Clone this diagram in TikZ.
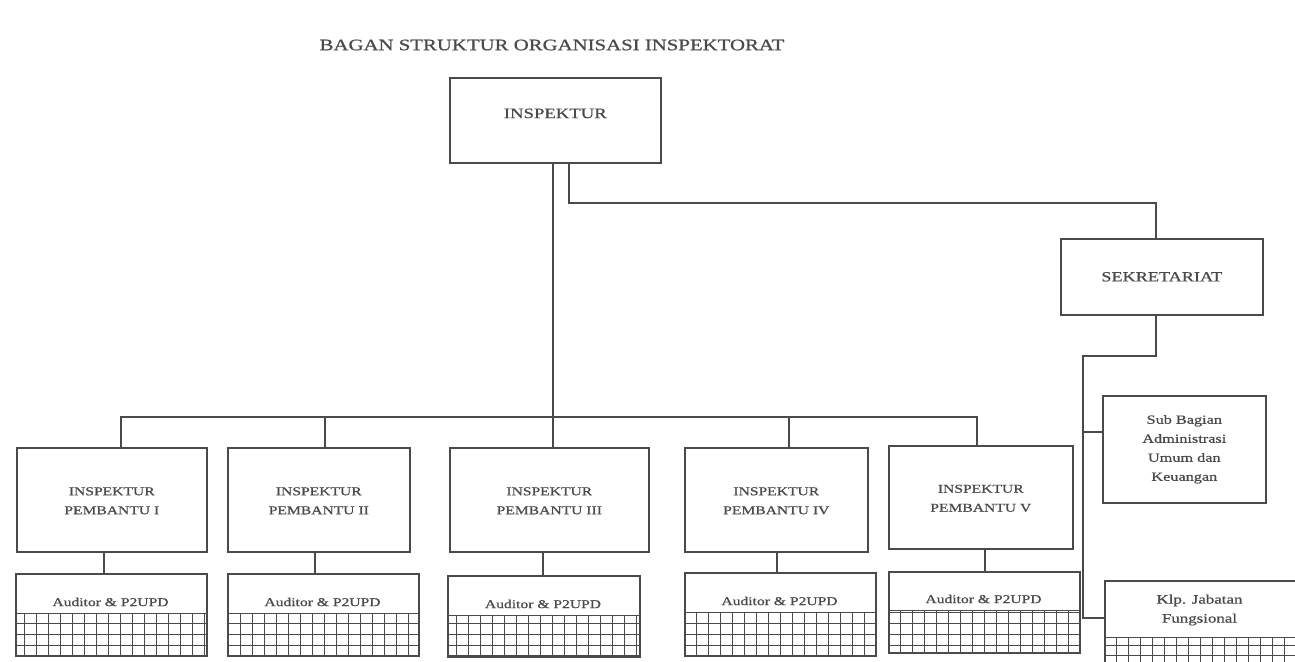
\documentclass[tikz,border=0pt]{standalone}
\usepackage{fontspec}
\setmainfont{Liberation Serif}[FakeStretch=1.3,FakeBold=0.8]
\definecolor{linec}{HTML}{4A4A4A}
\definecolor{textc}{HTML}{4A4A4A}
\newcommand\hatchgrid[4]{%
  \draw[gridl] (#1,#2) grid[xstep=12pt,ystep=10.75pt] (#3,#4);
  \draw[gridl] (#1,#2) -- (#3,#2);
}
\begin{document}
\begin{tikzpicture}[x=1pt,y=-1pt,
  box/.style={draw=linec, line width=1.6pt, rectangle, inner sep=0pt, align=center, text=textc, anchor=north west},
  conn/.style={draw=linec, line width=1.4pt},
  thickconn/.style={draw=linec, line width=2.2pt},
  gridl/.style={draw=linec, line width=1pt},
  lvltwo/.style={box, font=\fontsize{12}{19}\selectfont},
  audtext/.style={text=textc, font=\fontsize{12}{14}\selectfont},
]
\useasboundingbox[fill=white] (0,0) rectangle (1295,661);

% title
\node[text=textc, font=\fontsize{16}{19}\selectfont] (title) at (552,45) {BAGAN STRUKTUR ORGANISASI INSPEKTORAT};

% top
\node[box, minimum width=211pt, minimum height=85pt, font=\fontsize{14.4}{17}\selectfont] (insp) at (449,77) {INSPEKTUR\\[-3pt]};
\node[box, minimum width=202pt, minimum height=76pt, font=\fontsize{14}{17}\selectfont] (sek) at (1060,238) {SEKRETARIAT};

% level two
\node[lvltwo, minimum width=190pt, minimum height=104pt] (ip1) at (16,447) {\mbox{}\\[-9pt]INSPEKTUR\\PEMBANTU I};
\node[lvltwo, minimum width=182pt, minimum height=104pt] (ip2) at (227,447) {\mbox{}\\[-9pt]INSPEKTUR\\PEMBANTU II};
\node[lvltwo, minimum width=199pt, minimum height=104pt] (ip3) at (449,447) {\mbox{}\\[-9pt]INSPEKTUR\\PEMBANTU III};
\node[lvltwo, minimum width=183pt, minimum height=104pt] (ip4) at (684,447) {\mbox{}\\[-9pt]INSPEKTUR\\PEMBANTU IV};
\node[lvltwo, minimum width=184pt, minimum height=103pt] (ip5) at (888,445) {\mbox{}\\[-9pt]INSPEKTUR\\PEMBANTU V};

% auditor boxes
\node[box, minimum width=191pt, minimum height=82pt] (aud1) at (15,573) {};
\node[box, minimum width=191pt, minimum height=82pt] (aud2) at (227,573) {};
\node[box, minimum width=192pt, minimum height=81pt] (aud3) at (447,575) {};
\node[box, minimum width=191pt, minimum height=83pt] (aud4) at (684,572) {};
\node[box, minimum width=191pt, minimum height=81pt] (aud5) at (888,571) {};
\hatchgrid{15}{613}{206}{655}
\hatchgrid{227}{613}{418}{655}
\hatchgrid{447}{615}{639}{656}
\hatchgrid{684}{612}{875}{655}
\hatchgrid{888}{610}{1079}{652}
\node[audtext] (aud1t) at (110.5,602) {Auditor \& P2UPD};
\node[audtext] (aud2t) at (322.5,602) {Auditor \& P2UPD};
\node[audtext] (aud3t) at (543,604) {Auditor \& P2UPD};
\node[audtext] (aud4t) at (779.5,601) {Auditor \& P2UPD};
\node[audtext] (aud5t) at (983.5,599) {Auditor \& P2UPD};

% secretariat children
\node[box, minimum width=163pt, minimum height=107pt, font=\fontsize{12.5}{19}\selectfont] (sub) at (1102,395) {Sub Bagian\\Administrasi\\Umum dan\\Keuangan};
\node[box, minimum width=191pt, minimum height=95pt] (klp) at (1104,580) {};
\hatchgrid{1104}{637}{1295}{680}
\node[audtext, align=center, font=\fontsize{13}{19}\selectfont] (klpt) at (1199.5,610) {Klp. Jabatan\\Fungsional};

% connectors
\coordinate (busM) at (553,417);
\coordinate (busL) at (121,417);
\coordinate (busR) at (977,417);
\coordinate (d2) at (325,417);
\coordinate (d3) at (553,417);
\coordinate (d4) at (789,417);
\draw[conn] (busM |- insp.south) -- (busM);
\draw[conn] (busL |- ip1.north) -- (busL) -- (busR) -- (busR |- ip5.north);
\draw[conn] (d2) -- (d2 |- ip2.north);
\draw[conn] (d3) -- (d3 |- ip3.north);
\draw[conn] (d4) -- (d4 |- ip4.north);

\coordinate (c1) at (104,0);
\coordinate (c2) at (315,0);
\coordinate (c3) at (543,0);
\coordinate (c4) at (777,0);
\coordinate (c5) at (985,0);
\draw[conn] (c1 |- ip1.south) -- (c1 |- aud1.north);
\draw[conn] (c2 |- ip2.south) -- (c2 |- aud2.north);
\draw[conn] (c3 |- ip3.south) -- (c3 |- aud3.north);
\draw[conn] (c4 |- ip4.south) -- (c4 |- aud4.north);
\draw[conn] (c5 |- ip5.south) -- (c5 |- aud5.north);

\coordinate (s1) at (569,203);
\coordinate (s2) at (1156,203);
\draw[thickconn] (s1 |- insp.south) -- (s1) -- (s2) -- (s2 |- sek.north);

\coordinate (t1) at (1156,356);
\coordinate (t2) at (1083,356);
\coordinate (t3) at (1083,618);
\coordinate (t4) at (1083,432);
\draw[conn] (t1 |- sek.south) -- (t1) -- (t2) -- (t3) -- (t3 -| klp.west);
\draw[conn] (t4) -- (t4 -| sub.west);
\end{tikzpicture}
\end{document}
